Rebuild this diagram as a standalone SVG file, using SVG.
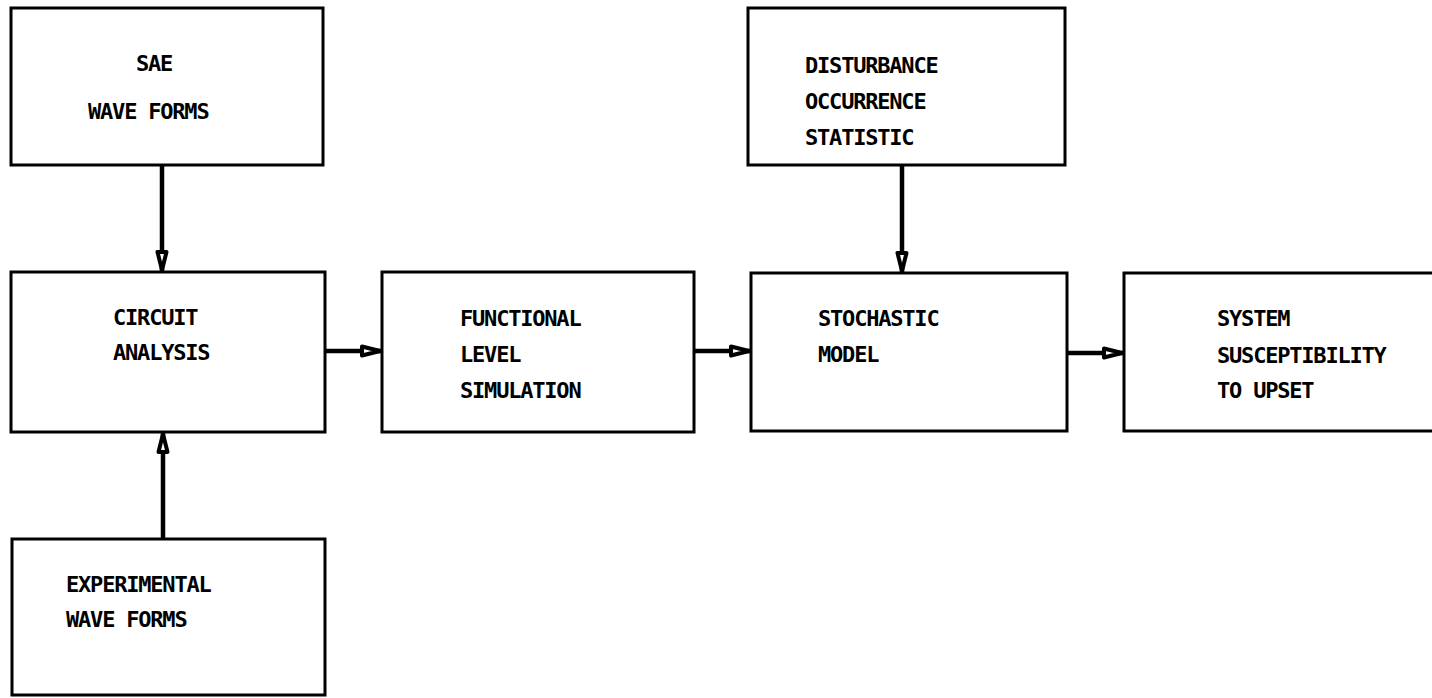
<svg xmlns="http://www.w3.org/2000/svg" width="1432" height="698" viewBox="0 0 1432 698">
<style>
.box{fill:none;stroke:#000;stroke-width:3}
.lbl{font-family:"DejaVu Sans Mono","Liberation Mono",monospace;font-size:22px;letter-spacing:-1.2px;font-weight:bold;fill:#000}
.conn{stroke:#000;stroke-width:4.5;fill:none}
</style>
<defs>
<marker id="ah" viewBox="0 0 24 14" refX="23" refY="7" markerWidth="24" markerHeight="14" markerUnits="userSpaceOnUse" orient="auto">
<path d="M3,2.5 L21,7 L3,11.5 Z" fill="#fff" stroke="#000" stroke-width="4" stroke-linejoin="round"/>
</marker>
</defs>
<rect width="1432" height="698" fill="#fff"/>
<g id="connectors">
<line class="conn" x1="162" y1="165" x2="162" y2="272" marker-end="url(#ah)"/>
<line class="conn" x1="163" y1="539" x2="163" y2="432" marker-end="url(#ah)"/>
<line class="conn" x1="902" y1="165" x2="902" y2="273" marker-end="url(#ah)"/>
<line class="conn" x1="325" y1="351" x2="382" y2="351" marker-end="url(#ah)"/>
<line class="conn" x1="694" y1="351" x2="751" y2="351" marker-end="url(#ah)"/>
<line class="conn" x1="1067" y1="353" x2="1124" y2="353" marker-end="url(#ah)"/>
</g>
<g id="sae">
<rect class="box" x="11" y="8" width="312" height="157"/>
<text class="lbl" x="136" y="71">SAE</text>
<text class="lbl" x="88" y="119">WAVE FORMS</text>
</g>
<g id="circuit">
<rect class="box" x="11" y="272" width="314" height="160"/>
<text class="lbl" x="113" y="325">CIRCUIT</text>
<text class="lbl" x="113" y="360">ANALYSIS</text>
</g>
<g id="experimental">
<rect class="box" x="12" y="539" width="313" height="156"/>
<text class="lbl" x="66" y="592">EXPERIMENTAL</text>
<text class="lbl" x="66" y="627">WAVE FORMS</text>
</g>
<g id="functional">
<rect class="box" x="382" y="272" width="312" height="160"/>
<text class="lbl" x="460" y="326">FUNCTIONAL</text>
<text class="lbl" x="460" y="362">LEVEL</text>
<text class="lbl" x="460" y="398">SIMULATION</text>
</g>
<g id="disturbance">
<rect class="box" x="748" y="8" width="317" height="157"/>
<text class="lbl" x="805" y="73">DISTURBANCE</text>
<text class="lbl" x="805" y="109">OCCURRENCE</text>
<text class="lbl" x="805" y="145">STATISTIC</text>
</g>
<g id="stochastic">
<rect class="box" x="751" y="273" width="316" height="158"/>
<text class="lbl" x="818" y="326">STOCHASTIC</text>
<text class="lbl" x="818" y="362">MODEL</text>
</g>
<g id="system">
<rect class="box" x="1124" y="273" width="320" height="158"/>
<text class="lbl" x="1217" y="326">SYSTEM</text>
<text class="lbl" x="1217" y="363">SUSCEPTIBILITY</text>
<text class="lbl" x="1217" y="398">TO UPSET</text>
</g>
</svg>
